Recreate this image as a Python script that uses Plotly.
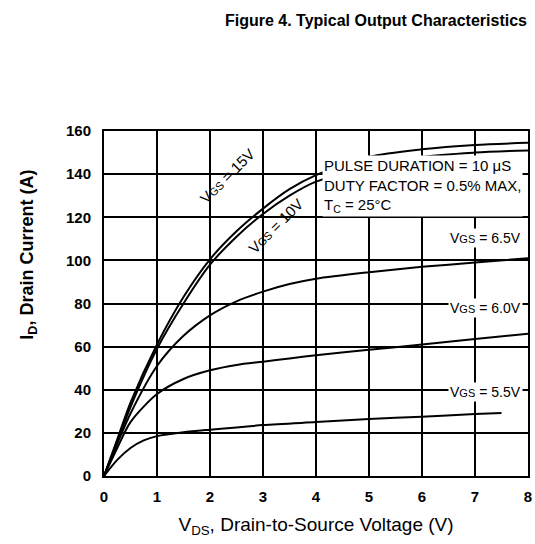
import plotly.graph_objects as go

vds = [0, 0.25, 0.5, 1, 1.5, 2, 2.5, 3, 3.5, 4, 5, 6, 7, 8]
vds_55 = [0, 0.25, 0.5, 0.75, 1, 1.5, 2, 3, 4, 5, 6, 7, 7.5]
id_15v = [0, 17, 34, 61, 83, 100.5, 113.5, 124, 133, 139.5, 148, 151.5, 153.5, 154.5]
id_10v = [0, 16, 32, 59, 80, 98, 111, 121.5, 130, 136.5, 143, 148, 150, 151]
id_65v = [0, 15, 29, 51, 65, 74.5, 81, 85.5, 89, 91.5, 94.5, 97, 99, 101]
id_60v = [0, 13, 25, 38, 45, 49, 51.5, 53, 54.5, 56, 58.5, 61, 63.5, 66]
id_55v = [0, 7.5, 13, 16.5, 18.5, 20.3, 21.5, 23.6, 25, 26.4, 27.5, 28.7, 29.2]

x_ticks = [0, 1, 2, 3, 4, 5, 6, 7, 8]
y_ticks = [0, 20, 40, 60, 80, 100, 120, 140, 160]

FONT = "Liberation Sans, Arial, sans-serif"

fig = go.Figure()
for xs, ys in [(vds, id_15v), (vds, id_10v), (vds, id_65v), (vds, id_60v), (vds_55, id_55v)]:
    fig.add_trace(go.Scatter(x=xs, y=ys, mode="lines",
                             line=dict(color="black", width=2, shape="spline", smoothing=0.8),
                             showlegend=False, hoverinfo="skip"))

sm = "<span style='font-size:11px'>GS</span>"
ann_font = dict(family=FONT, size=14, color="black")
annotations = [
    dict(x=2.33, y=139.5, text="V" + sm + " = 15V", textangle=-45, font=dict(family=FONT, size=15, color="black")),
    dict(x=3.25, y=116, text="V" + sm + " = 10V", textangle=-45, font=dict(family=FONT, size=15, color="black")),
    dict(x=7.2, y=110.5, text="V" + sm + " = 6.5V", bgcolor="white"),
    dict(x=7.2, y=78, text="V" + sm + " = 6.0V", bgcolor="white"),
    dict(x=7.2, y=39, text="V" + sm + " = 5.5V", bgcolor="white"),
]
for a in annotations:
    a.update(xref="x", yref="y", showarrow=False)
    a.setdefault("font", ann_font)
    if "bgcolor" in a:
        a["borderpad"] = 1
fig.update_layout(annotations=annotations)
fig.add_annotation(x=4.12, y=149, xref="x", yref="y", xanchor="left", yanchor="top",
                   showarrow=False, align="left", bgcolor="white", borderpad=1,
                   font=dict(family=FONT, size=15, color="black"),
                   text="PULSE DURATION = 10 μS<br>DUTY FACTOR = 0.5% MAX,<br>T<sub>C</sub> = 25°C")
# y-axis title (placed above centre, as in the reference)
fig.add_annotation(x=-0.178, y=0.64, xref="paper", yref="paper", xanchor="center", yanchor="middle",
                   showarrow=False, textangle=-90,
                   font=dict(family=FONT, size=18, color="black"),
                   text="<b>I<sub>D</sub>, Drain Current (A)</b>")

fig.update_layout(
    width=535, height=544,
    margin=dict(l=104, r=3, t=131, b=68),
    paper_bgcolor="white", plot_bgcolor="white",
    title=dict(text="<b>Figure 4. Typical Output Characteristics</b>",
               x=0.985, xanchor="right", y=0.963, yanchor="middle",
               font=dict(family=FONT, size=16, color="black")),
    xaxis=dict(range=[0, 8], tickvals=x_ticks, ticktext=["<b>%d</b>" % v for v in x_ticks],
               showgrid=True, gridcolor="black", gridwidth=1.6, zeroline=False,
               showline=True, linecolor="black", linewidth=2, mirror=True,
               ticks="", ticklabelstandoff=6, ticklabeloverflow="allow",
               tickfont=dict(family=FONT, size=15, color="black"),
               title=dict(text="V<sub>DS</sub>, Drain-to-Source Voltage (V)", standoff=14,
                          font=dict(family=FONT, size=19, color="black"))),
    yaxis=dict(range=[0, 160], tickvals=y_ticks, ticktext=["<b>%d</b>" % v for v in y_ticks],
               showgrid=True, gridcolor="black", gridwidth=1.6, zeroline=False,
               showline=True, linecolor="black", linewidth=2, mirror=True,
               ticks="", ticklabelstandoff=8,
               tickfont=dict(family=FONT, size=15, color="black")),
)

fig.write_html("out.html", config={"displayModeBar": False},
               post_script="document.body.style.margin='0';")
